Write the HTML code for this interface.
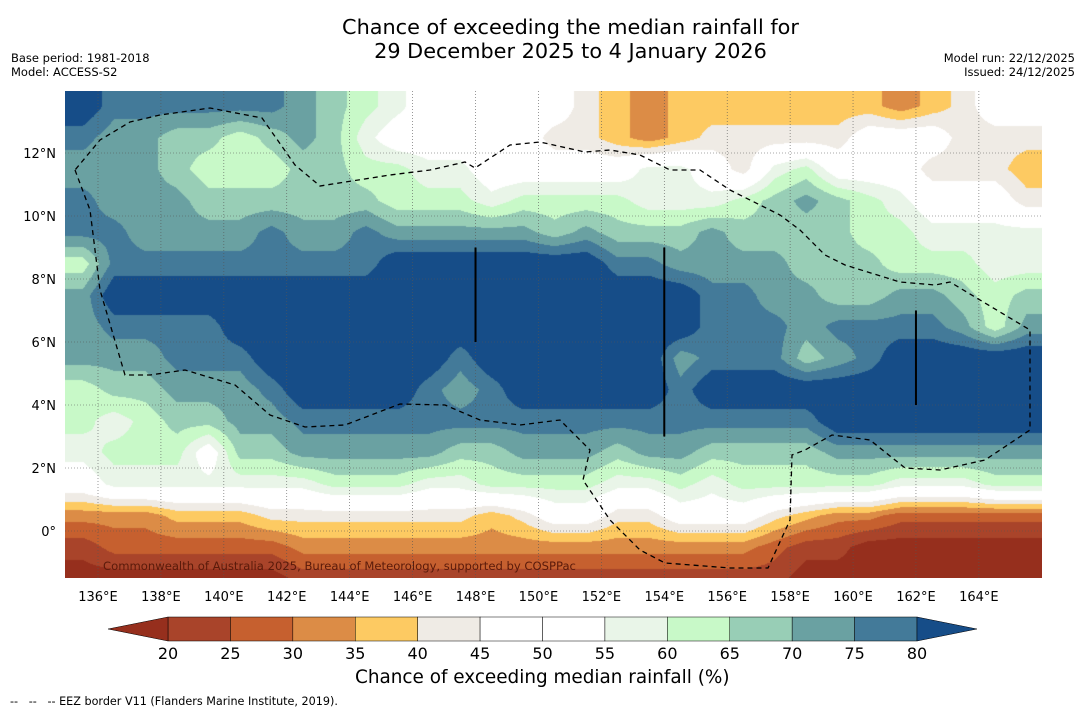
<!DOCTYPE html>
<html><head><meta charset="utf-8">
<style>
body{margin:0;background:#fff;font-family:"DejaVu Sans","Liberation Sans",sans-serif;}
#wrap{position:relative;width:1085px;height:713px;overflow:hidden;}
.t{position:absolute;white-space:nowrap;color:#000;}
svg text{font-family:"DejaVu Sans","Liberation Sans",sans-serif;}
</style></head>
<body>
<div id="wrap">
<div class="t" style="left:0;width:1141px;top:15px;text-align:center;font-size:20.8px;line-height:24px;">Chance of exceeding the median rainfall for<br>29 December 2025 to 4 January 2026</div>
<div class="t" style="left:11px;top:51px;font-size:11.5px;line-height:14px;">Base period: 1981-2018<br>Model: ACCESS-S2</div>
<div class="t" style="right:10px;top:51px;font-size:11.5px;line-height:14px;text-align:right;">Model run: 22/12/2025<br>Issued: 24/12/2025</div>
<canvas id="map" width="977" height="487" style="position:absolute;left:65px;top:91px;"></canvas>
<svg id="ov" width="1085" height="713" style="position:absolute;left:0;top:0;"></svg>
<div class="t" style="left:355px;top:667px;font-size:18.4px;">Chance of exceeding median rainfall (%)</div>
<div class="t" style="left:10px;top:695px;font-size:11.2px;">-- &nbsp;&nbsp;-- &nbsp;&nbsp;-- EEZ border V11 (Flanders Marine Institute, 2019).</div>
</div>
<script>
const lonStart=135, latTop=14;
const lonTicks=[136,138,140,142,144,146,148,150,152,154,156,158,160,162,164];
const latTicks=[0,2,4,6,8,10,12];
const levels=[20,25,30,35,40,45,50,55,60,65,70,75,80];
const colors=["#962f1d","#a9442a","#c6602f","#dc8c46","#fdca62","#efebe5","#ffffff","#ffffff","#e9f5e8","#c8f9c8","#98ceb6","#6aa1a2","#437a99","#164d88"];
const code={A:85,B:77,C:72,D:67,E:62,F:57,W:50,G:42,H:37,I:32,J:27,K:22,L:17};
const rows=[
"ABBBBBBCDEFWWWWWGHIHHHHHHHIHGWW",
"BCCDDEDCDFWWWWWGGHIHGGGGGWWWGGG",
"CCCDEEEDDEEFFWWWWWFFWGFEWWWGGGH",
"BCCCDDDDDDEEEFEEEEFFFEDCDEFWWWG",
"BBCCCCBCCBCCCCCDCDDDCDDDDEEFFFF",
"EBBBBBBBBBAAAAAAABBCCCCDDDEEEFF",
"CAAAAAAAAAAAAAAAAAAABBCCDDCCDED",
"CBBBBAAAAAAAAAAAAAAABBBCBBBBCEC",
"CCCBBBAAAAAABAAAAAACBBBDCBAAAAA",
"EDDCCCBAAAABCBAAAAABAAAAAAAAAAA",
"EFEDDCCBBBBBBBBBBBBBBBBBAAAAAAA",
"FEEEWDDCCCCCDDCCCDCCDDDDCCCCCCC",
"WFFFFFFFEEEFFEEEEFFEFEEEEEFFFEE",
"IIIHHHGGGGGGGHGWWGGWWWGHIIJJJJJ",
"KJJJJJJIIIIIIIIIIIIIIIJKKLLLLLL",
"LLLLLLLKKKKKKKKKKKKKKKKLLLLLLLL"];
const grid=rows.map(r=>r.split('').map(c=>code[c]));
const W=977,H=487,px0=65,py0=91;
const pxPerLon=31.46, pxPerLat=31.5;
function xOfLon(l){return 98+(l-136)*pxPerLon;}
function yOfLat(l){return 531-l*pxPerLat;}
function hex(c){return [parseInt(c.substr(1,2),16),parseInt(c.substr(3,2),16),parseInt(c.substr(5,2),16)];}
const cv=document.getElementById('map'),ctx=cv.getContext('2d');
const img=ctx.createImageData(W,H);
const nr=grid.length,nc=grid[0].length;
const rgb=colors.map(hex);
for(let y=0;y<H;y++){
  const lat=(yOfLat(0)-(y+py0))/pxPerLat;
  let fr=(latTop-0.5-lat); fr=Math.max(0,Math.min(nr-1,fr));
  const r0=Math.floor(fr),r1=Math.min(nr-1,r0+1),tr=fr-r0;
  for(let x=0;x<W;x++){
    const lon=136+((x+px0)-98)/pxPerLon;
    let fc=lon-lonStart-0.5; fc=Math.max(0,Math.min(nc-1,fc));
    const c0=Math.floor(fc),c1=Math.min(nc-1,c0+1),tc=fc-c0;
    const v=(grid[r0][c0]*(1-tc)+grid[r0][c1]*tc)*(1-tr)+(grid[r1][c0]*(1-tc)+grid[r1][c1]*tc)*tr;
    let i=0;while(i<levels.length&&v>=levels[i])i++;
    const k=(y*W+x)*4,c=rgb[i];
    img.data[k]=c[0];img.data[k+1]=c[1];img.data[k+2]=c[2];img.data[k+3]=255;
  }
}
ctx.putImageData(img,0,0);
const NS='http://www.w3.org/2000/svg',svg=document.getElementById('ov');
function mk(tag,attrs,txt){const e=document.createElementNS(NS,tag);for(const k in attrs)e.setAttribute(k,attrs[k]);if(txt!==undefined)e.textContent=txt;svg.appendChild(e);return e;}
lonTicks.forEach(l=>{const x=xOfLon(l);
  const g=mk('line',{x1:x,x2:x,y1:91,y2:578,stroke:'#555','stroke-width':0.6,'stroke-dasharray':'1,2'});
  
  
  const t=mk('text',{x:x,y:601,'font-size':13,'text-anchor':'middle'},l+'°E');
  
  
});
latTicks.forEach(l=>{const y=yOfLat(l);
  const g=mk('line',{x1:65,x2:1042,y1:y,y2:y,stroke:'#555','stroke-width':0.6,'stroke-dasharray':'1,2'});
  
  
  const t=mk('text',{x:56,y:y+5,'font-size':13,'text-anchor':'end'},l===0?'0°':l+'°N');
  
  
});
const eez="75,170 90,210 100,290 125,375 150,375 185,370 235,385 270,415 305,427 345,425 400,404 445,405 480,420 520,425 560,420 590,450 583,480 610,520 640,550 665,563 730,568 768,568 790,520 792,455 805,450 832,435 870,440 905,468 940,470 985,460 1030,430 1030,330 950,282 935,285 900,282 845,265 825,255 800,230 780,215 730,190 700,170 670,170 640,155 610,150 585,152 540,142 510,145 475,168 465,162 430,170 390,175 320,186 295,165 262,118 210,108 160,115 130,122 100,140 75,170";
const pe=mk('polyline',{points:eez,fill:'none',stroke:'#000','stroke-width':1.3,'stroke-dasharray':'5,4'});


[[148,9,6],[154,9,3],[162,7,4]].forEach(s=>{
  const l=mk('line',{x1:xOfLon(s[0]),x2:xOfLon(s[0]),y1:yOfLat(s[1]),y2:yOfLat(s[2]),stroke:'#000','stroke-width':2});
  
  
});
const cp=mk('text',{x:103,y:570,'font-size':11.6,fill:'#5a1a0a'},'Commonwealth of Australia 2025, Bureau of Meteorology, supported by COSPPac');


const cbX0=168,cbX1=917,cbY=617,cbH=24,seg=(cbX1-cbX0)/(levels.length-1);
for(let i=0;i<levels.length-1;i++){
  const r=mk('rect',{x:cbX0+i*seg,y:cbY,width:seg,height:cbH,fill:colors[i+1],stroke:'#000','stroke-width':0.5});
  
  
}
const tl=mk('polygon',{points:`${cbX0},${cbY} 108,${cbY+cbH/2} ${cbX0},${cbY+cbH}`,fill:colors[0],stroke:'#000','stroke-width':0.5});


const tr=mk('polygon',{points:`${cbX1},${cbY} 977,${cbY+cbH/2} ${cbX1},${cbY+cbH}`,fill:colors[colors.length-1],stroke:'#000','stroke-width':0.5});


levels.forEach((v,i)=>{
  const t=mk('text',{x:cbX0+i*seg,y:659,'font-size':16,'text-anchor':'middle'},v);
  
  
});
</script>
</body></html>
